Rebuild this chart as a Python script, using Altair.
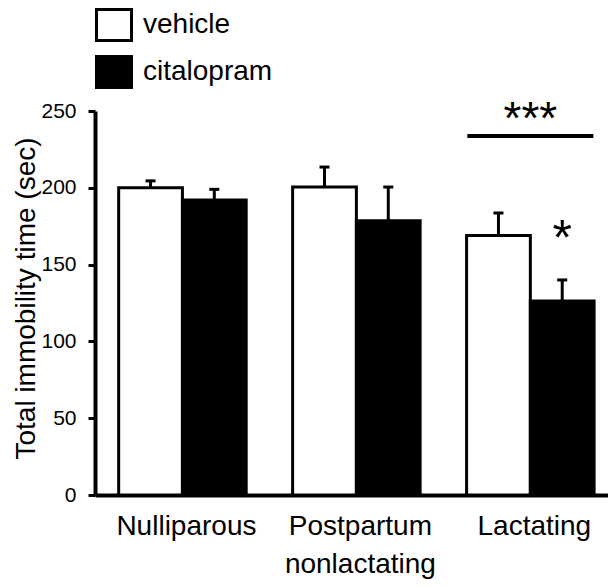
import altair as alt
import pandas as pd

groups = ["Nulliparous", "Postpartum nonlactating", "Lactating"]
treatments = ["vehicle", "citalopram"]
vehicle_mean = [200, 200.5, 169]
vehicle_sem = [4.5, 13, 14.6]
citalopram_mean = [192, 178.5, 126.3]
citalopram_sem = [7, 22, 13.7]

sig_line_group = ["Lactating"]
sig_line_y = [233.7]
sig_text = ["***"]
sig_text_y = [244]
star_group = ["Lactating"]
star_treatment = ["citalopram"]
star_y = [166]

rows = []
for g, m, s in zip(groups, vehicle_mean, vehicle_sem):
    rows.append({"group": g, "treatment": "vehicle", "mean": m, "top": m + s})
for g, m, s in zip(groups, citalopram_mean, citalopram_sem):
    rows.append({"group": g, "treatment": "citalopram", "mean": m, "top": m + s})
df = pd.DataFrame(rows)

line_df = pd.DataFrame({"group": sig_line_group, "y": sig_line_y})
txt_df = pd.DataFrame({"group": sig_line_group, "y": sig_text_y, "label": sig_text})
star_df = pd.DataFrame({"group": star_group, "treatment": star_treatment, "y": star_y, "label": ["*"]})

FONT = "Liberation Sans"

xscale = alt.Scale(domain=groups, paddingInner=0.267, paddingOuter=0.108, align=0.63)
xoff = alt.XOffset("treatment:N", scale=alt.Scale(domain=treatments, paddingInner=0, paddingOuter=0))
yscale = alt.Scale(domain=[0, 250], nice=False)

x_enc = alt.X(
    "group:N",
    scale=xscale,
    sort=groups,
    axis=alt.Axis(
        title=None,
        ticks=False,
        labelAngle=0,
        labelFont=FONT,
        labelFontSize=28,
        labelColor="black",
        labelPadding=17,
        labelLineHeight=38,
        labelLimit=300,
        labelOffset=4,
        domainColor="black",
        domainWidth=4,
        labelExpr="datum.label == 'Postpartum nonlactating' ? ['Postpartum', 'nonlactating'] : datum.label",
    ),
)
y_enc = alt.Y(
    "mean:Q",
    scale=yscale,
    axis=alt.Axis(
        title="Total immobility time (sec)",
        values=[0, 50, 100, 150, 200, 250],
        grid=False,
        labelFont=FONT,
        labelFontSize=21,
        labelColor="black",
        labelPadding=12,
        tickSize=7,
        tickWidth=3,
        tickColor="black",
        domainColor="black",
        domainWidth=4,
        titleFont=FONT,
        titleFontSize=28,
        titleFontWeight="normal",
        titleColor="black",
        titleBaseline="alphabetic",
        titleX=-61,
        titleY=187,
    ),
)

bars = alt.Chart(df).mark_bar(stroke="black", strokeWidth=3).encode(
    x=x_enc,
    xOffset=xoff,
    y=y_enc,
    fill=alt.Fill(
        "treatment:N",
        scale=alt.Scale(domain=treatments, range=["white", "black"]),
        legend=alt.Legend(
            title=None,
            orient="none",
            legendX=2,
            legendY=-103,
            symbolType="M-1.13,-1H1.13V1H-1.13Z",
            symbolSize=961,
            symbolStrokeWidth=3,
            symbolStrokeColor="black",
            symbolOpacity=1,
            labelFont=FONT,
            labelFontSize=28,
            labelColor="black",
            labelOffset=12,
            rowPadding=3,
            padding=0,
        ),
    ),
)

err = alt.Chart(df).mark_rule(color="black", strokeWidth=3).encode(
    x=alt.X("group:N", scale=xscale, sort=groups),
    xOffset=xoff,
    y=alt.Y("mean:Q", scale=yscale),
    y2="top:Q",
)

caps = alt.Chart(df).mark_tick(color="black", size=10, thickness=3, opacity=1).encode(
    x=alt.X("group:N", scale=xscale, sort=groups),
    xOffset=xoff,
    y=alt.Y("top:Q", scale=yscale),
)

sig_line = alt.Chart(line_df).mark_tick(color="black", size=126, thickness=4, opacity=1).encode(
    x=alt.X("group:N", scale=xscale, sort=groups),
    y=alt.Y("y:Q", scale=yscale),
)

sig_txt = alt.Chart(txt_df).mark_text(font=FONT, fontSize=46, color="black", baseline="middle").encode(
    x=alt.X("group:N", scale=xscale, sort=groups),
    y=alt.Y("y:Q", scale=yscale),
    text="label:N",
)

star = alt.Chart(star_df).mark_text(font=FONT, fontSize=50, color="black", baseline="middle").encode(
    x=alt.X("group:N", scale=xscale, sort=groups),
    xOffset=xoff,
    y=alt.Y("y:Q", scale=yscale),
    text="label:N",
)

chart = alt.layer(bars, err, caps, sig_line, sig_txt, star).properties(
    width=513,
    height=384,
    autosize=alt.AutoSizeParams(type="none"),
    padding={"left": 87, "top": 103, "right": 0, "bottom": 84},
    background="white",
).configure_view(stroke=None)

chart.save("out.html", embed_options={"renderer": "svg", "actions": False})
